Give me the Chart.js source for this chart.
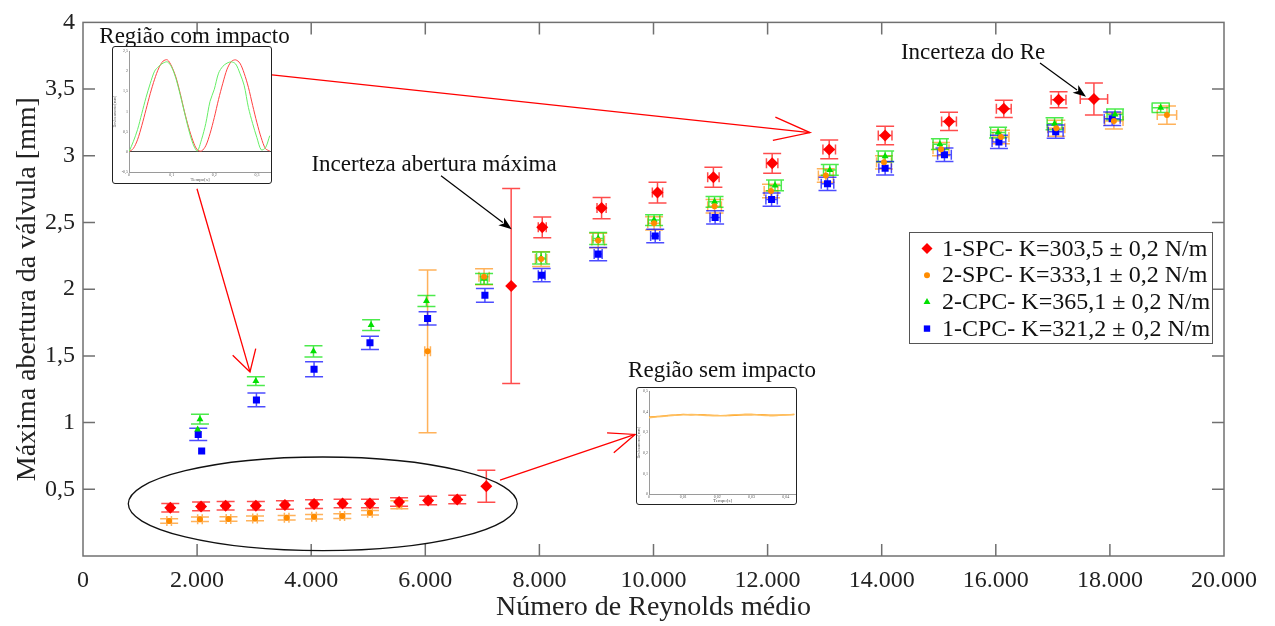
<!DOCTYPE html>
<html lang="pt">
<head>
<meta charset="utf-8">
<title>Máxima abertura da válvula</title>
<script src="https://cdn.jsdelivr.net/npm/chart.js@4.4.0/dist/chart.umd.min.js"></script>
<style>
  body { margin: 0; background: #fff; }
  #wrap { position: relative; width: 1275px; height: 626px; }
  .inset { position: absolute; background: #fff; border: 1px solid #222; border-radius: 3px; box-sizing: border-box; }
  .inset canvas { display: block; }
</style>
</head>
<body>
<div id="wrap">
  <canvas id="main" width="1275" height="626"></canvas>
  <div class="inset" style="left:112px;top:46px;width:160px;height:138px;">
    <canvas id="inset1" width="158" height="136"></canvas>
  </div>
  <div class="inset" style="left:636px;top:387px;width:161px;height:118px;">
    <canvas id="inset2" width="159" height="116"></canvas>
  </div>
</div>
<script>
/* =============================================
   DATA
   ============================================= */
// 1-SPC (red diamonds)
const spc1Re = [1530, 2070, 2500, 3030, 3540, 4050, 4550, 5030, 5540, 6050, 6560, 7070, 7505, 8050, 9090, 10070, 11050, 12080, 13080, 14060, 15180, 16140, 17100, 17720];
const spc1Ab = [0.361, 0.372, 0.377, 0.377, 0.382, 0.389, 0.394, 0.394, 0.405, 0.416, 0.424, 0.523, 2.024, 2.464, 2.608, 2.724, 2.840, 2.944, 3.048, 3.152, 3.258, 3.352, 3.421, 3.426];
const spc1ErrAb = [0.032, 0.032, 0.032, 0.032, 0.032, 0.032, 0.032, 0.032, 0.032, 0.032, 0.032, 0.12, 0.73, 0.078, 0.079, 0.078, 0.075, 0.074, 0.07, 0.07, 0.068, 0.065, 0.06, 0.12];
const spc1ErrRe = [50, 50, 50, 50, 50, 50, 50, 50, 50, 50, 50, 0, 0, 70, 80, 90, 100, 100, 110, 120, 130, 130, 130, 240];

// 2-SPC (orange circles)
const spc2Re = [1510, 2050, 2550, 3015, 3570, 4050, 4545, 5030, 5545, 6040, 7030, 8030, 9030, 10010, 11070, 12060, 13020, 14040, 15040, 16090, 17060, 18070, 19000];
const spc2Ab = [0.262, 0.275, 0.277, 0.282, 0.287, 0.295, 0.299, 0.324, 0.385, 1.534, 2.093, 2.226, 2.365, 2.494, 2.622, 2.736, 2.852, 2.951, 3.050, 3.141, 3.206, 3.260, 3.305];
const spc2ErrAb = [0.017, 0.017, 0.017, 0.017, 0.017, 0.017, 0.017, 0.017, 0.03, 0.61, 0.06, 0.055, 0.055, 0.05, 0.05, 0.05, 0.05, 0.05, 0.05, 0.05, 0.06, 0.06, 0.068];
const spc2ErrRe = [40, 40, 40, 40, 40, 40, 40, 40, 40, 50, 90, 100, 110, 110, 120, 120, 130, 130, 140, 140, 150, 160, 170];

// 2-CPC (green triangles)
const cpc2Re = [2050, 2010, 3030, 4040, 5050, 6020, 7030, 8030, 9030, 10010, 11070, 12130, 13090, 14060, 15020, 16040, 17030, 18090, 18890];
const cpc2Ab = [1.026, 0.948, 1.311, 1.534, 1.731, 1.912, 2.078, 2.234, 2.380, 2.518, 2.655, 2.778, 2.894, 2.996, 3.087, 3.174, 3.241, 3.310, 3.360];
const cpc2ErrAb = [0.037, 0, 0.032, 0.042, 0.04, 0.041, 0.04, 0.045, 0.045, 0.04, 0.04, 0.04, 0.04, 0.04, 0.04, 0.04, 0.045, 0.04, 0.035];
const cpc2ErrRe = [0, 0, 0, 0, 0, 0, 60, 80, 90, 100, 100, 110, 110, 120, 120, 130, 130, 140, 150];

// 1-CPC (blue squares)
const cpc1Re = [2020, 2080, 3040, 4050, 5030, 6040, 7045, 8040, 9030, 10030, 11080, 12070, 13050, 14060, 15100, 16055, 17050, 18040];
const cpc1Ab = [0.911, 0.787, 1.170, 1.400, 1.598, 1.781, 1.954, 2.105, 2.263, 2.399, 2.538, 2.672, 2.790, 2.907, 3.008, 3.104, 3.181, 3.278];
const cpc1ErrAb = [0.046, 0, 0.052, 0.056, 0.05, 0.05, 0.052, 0.05, 0.05, 0.05, 0.05, 0.05, 0.05, 0.05, 0.05, 0.05, 0.05, 0.05];
const cpc1ErrRe = [0, 0, 0, 0, 0, 0, 0, 60, 70, 80, 90, 100, 110, 110, 120, 120, 130, 140];

// Inset "Região com impacto"
const impactTime = [0, 0.01, 0.02, 0.03, 0.04, 0.05, 0.06, 0.07, 0.08, 0.09, 0.10, 0.11, 0.12, 0.13, 0.14, 0.15, 0.16, 0.17, 0.18, 0.19, 0.20, 0.21, 0.22, 0.23, 0.24, 0.25, 0.26, 0.27, 0.28, 0.29, 0.30, 0.31, 0.32, 0.33];
const impactRed = [0, 0.08, 0.3, 0.65, 1.05, 1.45, 1.8, 2.08, 2.25, 2.28, 2.12, 1.85, 1.45, 1.0, 0.6, 0.27, 0.05, 0.02, 0.15, 0.45, 0.85, 1.3, 1.7, 2.05, 2.24, 2.28, 2.2, 1.95, 1.6, 1.15, 0.72, 0.35, 0.08, 0.02];
const impactGreen = [0, 0.25, 0.55, 0.95, 1.35, 1.7, 2.0, 2.12, 2.2, 2.23, 2.1, 1.82, 1.42, 0.98, 0.55, 0.2, 0.02, 0.3, 0.7, 1.25, 1.55, 1.95, 2.12, 2.2, 2.23, 2.18, 1.95, 1.65, 1.1, 0.7, 0.35, 0.05, 0.1, 0.4];

// Inset "Região sem impacto"
const flatTime = [0, 0.0025, 0.005, 0.0075, 0.01, 0.0125, 0.015, 0.0175, 0.02, 0.0225, 0.025, 0.0275, 0.03, 0.0325, 0.035, 0.0375, 0.04, 0.0425];
const flatA = [0.375, 0.378, 0.382, 0.385, 0.388, 0.386, 0.387, 0.384, 0.383, 0.382, 0.383, 0.385, 0.386, 0.387, 0.385, 0.384, 0.386, 0.388];
const flatB = [0.372, 0.376, 0.380, 0.384, 0.386, 0.388, 0.385, 0.382, 0.381, 0.383, 0.386, 0.388, 0.389, 0.385, 0.382, 0.383, 0.386, 0.387];

// Axis ticks
const reTicks = [0, 2000, 4000, 6000, 8000, 10000, 12000, 14000, 16000, 18000, 20000];
const abTicks = [0, 0.5, 1, 1.5, 2, 2.5, 3, 3.5, 4];

/* =============================================
   SERIES / STYLE
   ============================================= */
const FONT = '"Liberation Serif", "Times New Roman", serif';

const series = [
  { label: '1-SPC- K=303,5 ± 0,2 N/m', re: spc1Re, ab: spc1Ab, errAb: spc1ErrAb, errRe: spc1ErrRe,
    color: '#ff0000', err: 'rgba(255,0,0,0.7)', style: 'rectRot', radius: 6, legendRadius: 5.5 },
  { label: '2-SPC- K=333,1 ± 0,2 N/m', re: spc2Re, ab: spc2Ab, errAb: spc2ErrAb, errRe: spc2ErrRe,
    color: '#ff8c00', err: 'rgba(255,145,20,0.7)', style: 'circle', radius: 3, legendRadius: 3 },
  { label: '2-CPC- K=365,1 ± 0,2 N/m', re: cpc2Re, ab: cpc2Ab, errAb: cpc2ErrAb, errRe: cpc2ErrRe,
    color: '#00e000', err: 'rgba(0,225,0,0.7)', style: 'triangle', radius: 4, legendRadius: 4 },
  { label: '1-CPC- K=321,2 ± 0,2 N/m', re: cpc1Re, ab: cpc1Ab, errAb: cpc1ErrAb, errRe: cpc1ErrRe,
    color: '#0000ff', err: 'rgba(0,0,255,0.7)', style: 'rect', radius: 5, legendRadius: 4.5 }
];

// annotations, given in data units (Re, abertura)
const noteTexts = [
  { text: 'Região com impacto', re: 1954, ab: 3.848 },
  { text: 'Incerteza abertura máxima', re: 6153, ab: 2.887 },
  { text: 'Incerteza do Re', re: 15601, ab: 3.722 },
  { text: 'Região sem impacto', re: 11201, ab: 1.343 }
];
const noteArrows = [
  { from: [3313, 3.607], to: [12744, 3.174], head: 38, spread: 18, fill: false, color: '#ff0000' },
  { from: [1998, 2.753], to: [2927, 1.380], head: 24, spread: 30, fill: false, color: '#ff0000' },
  { from: [7310, 0.569], to: [9676, 0.911], head: 28, spread: 22, fill: false, color: '#ff0000' },
  { from: [6275, 2.850], to: [7515, 2.449], head: 14, spread: 20, fill: true, color: '#000' },
  { from: [16775, 3.696], to: [17582, 3.443], head: 14, spread: 20, fill: true, color: '#000' }
];
const noteEllipse = { re: 4203, ab: 0.391, rRe: 3409, rAb: 0.351 };

/* =============================================
   HELPERS
   ============================================= */
const comma = v => String(+v.toFixed(4)).replace('.', ',');

function drawArrow(ctx, x1, y1, x2, y2, a) {
  const ang = Math.atan2(y2 - y1, x2 - x1);
  const sp = a.spread * Math.PI / 180;
  const p1 = [x2 - a.head * Math.cos(ang - sp), y2 - a.head * Math.sin(ang - sp)];
  const p2 = [x2 - a.head * Math.cos(ang + sp), y2 - a.head * Math.sin(ang + sp)];
  ctx.strokeStyle = a.color;
  ctx.fillStyle = a.color;
  ctx.lineWidth = a.fill ? 1.2 : 1.3;
  ctx.beginPath();
  ctx.moveTo(x1, y1);
  ctx.lineTo(a.fill ? x2 - a.head * 0.8 * Math.cos(ang) : x2, a.fill ? y2 - a.head * 0.8 * Math.sin(ang) : y2);
  ctx.stroke();
  ctx.beginPath();
  if (a.fill) {
    ctx.moveTo(x2, y2);
    ctx.lineTo(p1[0], p1[1]);
    ctx.lineTo(x2 - a.head * 0.7 * Math.cos(ang), y2 - a.head * 0.7 * Math.sin(ang));
    ctx.lineTo(p2[0], p2[1]);
    ctx.closePath();
    ctx.fill();
  } else {
    ctx.moveTo(p1[0], p1[1]);
    ctx.lineTo(x2, y2);
    ctx.lineTo(p2[0], p2[1]);
    ctx.stroke();
  }
}

/* =============================================
   PLUGINS
   ============================================= */
const errorBars = {
  id: 'errorBars',
  beforeDatasetsDraw(chart) {
    const { ctx, scales: { x, y } } = chart;
    ctx.save();
    ctx.lineWidth = 1.5;
    series.forEach(s => {
      ctx.strokeStyle = s.err;
      s.re.forEach((re, i) => {
        const cx = x.getPixelForValue(re);
        const cy = y.getPixelForValue(s.ab[i]);
        const ea = s.errAb[i], er = s.errRe[i];
        ctx.beginPath();
        if (ea > 0) {
          const t = y.getPixelForValue(s.ab[i] + ea);
          const b = y.getPixelForValue(s.ab[i] - ea);
          ctx.moveTo(cx, t); ctx.lineTo(cx, b);
          ctx.moveTo(cx - 9, t); ctx.lineTo(cx + 9, t);
          ctx.moveTo(cx - 9, b); ctx.lineTo(cx + 9, b);
        }
        if (er > 0) {
          const l = x.getPixelForValue(re - er);
          const r = x.getPixelForValue(re + er);
          ctx.moveTo(l, cy); ctx.lineTo(r, cy);
          ctx.moveTo(l, cy - 5); ctx.lineTo(l, cy + 5);
          ctx.moveTo(r, cy - 5); ctx.lineTo(r, cy + 5);
        }
        ctx.stroke();
      });
    });
    ctx.restore();
  }
};

const frameAndNotes = {
  id: 'frameAndNotes',
  afterDraw(chart) {
    const { ctx, chartArea: a, scales: { x, y } } = chart;
    ctx.save();

    // box with inward ticks
    ctx.strokeStyle = '#707070';
    ctx.lineWidth = 1.5;
    ctx.strokeRect(a.left, a.top, a.right - a.left, a.bottom - a.top);
    ctx.beginPath();
    reTicks.slice(1, -1).forEach(v => {
      const p = x.getPixelForValue(v);
      ctx.moveTo(p, a.bottom); ctx.lineTo(p, a.bottom - 12);
      ctx.moveTo(p, a.top); ctx.lineTo(p, a.top + 12);
    });
    abTicks.slice(1, -1).forEach(v => {
      const p = y.getPixelForValue(v);
      ctx.moveTo(a.left, p); ctx.lineTo(a.left + 12, p);
      ctx.moveTo(a.right, p); ctx.lineTo(a.right - 12, p);
    });
    ctx.stroke();

    // ellipse round the low region
    ctx.strokeStyle = '#111';
    ctx.lineWidth = 1.3;
    ctx.beginPath();
    const ex = x.getPixelForValue(noteEllipse.re), ey = y.getPixelForValue(noteEllipse.ab);
    const rx = x.getPixelForValue(noteEllipse.re + noteEllipse.rRe) - ex;
    const ry = ey - y.getPixelForValue(noteEllipse.ab + noteEllipse.rAb);
    ctx.ellipse(ex, ey, rx, ry, 0, 0, Math.PI * 2);
    ctx.stroke();

    // arrows
    noteArrows.forEach(n => {
      drawArrow(ctx,
        x.getPixelForValue(n.from[0]), y.getPixelForValue(n.from[1]),
        x.getPixelForValue(n.to[0]), y.getPixelForValue(n.to[1]), n);
    });

    // texts
    ctx.fillStyle = '#111';
    ctx.font = '23px ' + FONT;
    ctx.textAlign = 'center';
    ctx.textBaseline = 'alphabetic';
    noteTexts.forEach(n => ctx.fillText(n.text, x.getPixelForValue(n.re), y.getPixelForValue(n.ab)));

    // legend
    const lx = a.right - 315, ly = 232, lw = 303, lh = 111;
    ctx.fillStyle = '#fff';
    ctx.fillRect(lx, ly, lw, lh);
    ctx.strokeStyle = '#555';
    ctx.lineWidth = 1;
    ctx.strokeRect(lx + 0.5, ly + 0.5, lw, lh);
    ctx.font = '24px ' + FONT;
    ctx.textAlign = 'left';
    ctx.textBaseline = 'middle';
    series.forEach((s, i) => {
      const yy = ly + 16.5 + i * 26.7;
      ctx.fillStyle = s.color;
      Chart.helpers.drawPoint(ctx, { pointStyle: s.style, radius: s.legendRadius, rotation: 0, borderWidth: 0 }, lx + 18, yy);
      ctx.fillStyle = '#111';
      ctx.fillText(s.label, lx + 33, yy + 1);
    });

    ctx.restore();
  }
};

/* =============================================
   MAIN CHART
   ============================================= */
new Chart(document.getElementById('main'), {
  type: 'scatter',
  data: {
    datasets: series.map(s => ({
      label: s.label,
      data: s.re.map((re, i) => ({ x: re, y: s.ab[i] })),
      pointStyle: s.style,
      pointRadius: s.radius,
      backgroundColor: s.color,
      borderColor: s.color,
      borderWidth: 0
    }))
  },
  options: {
    responsive: false,
    animation: false,
    events: [],
    layout: { padding: { top: 17, right: 51, left: 0, bottom: 0 } },
    plugins: { legend: { display: false }, tooltip: { enabled: false } },
    scales: {
      x: {
        type: 'linear', min: 0, max: 20000,
        afterBuildTicks: s => { s.ticks = reTicks.map(v => ({ value: v })); },
        afterFit: s => { s.height = 70; },
        ticks: { padding: 10, color: '#222', font: { family: FONT, size: 24 },
                 callback: v => v.toLocaleString('de-DE') },
        grid: { display: false, drawTicks: false },
        border: { display: false },
        title: { display: true, text: 'Número de Reynolds médio', color: '#222',
                 font: { family: FONT, size: 28 }, padding: { top: 0, bottom: 2 } }
      },
      y: {
        type: 'linear', min: 0, max: 4,
        afterBuildTicks: s => { s.ticks = abTicks.map(v => ({ value: v })); },
        afterFit: s => { s.width = 83; },
        ticks: { padding: 8, color: '#222', font: { family: FONT, size: 24 },
                 callback: v => (v === 0 ? '' : comma(v)) },
        grid: { display: false, drawTicks: false },
        border: { display: false },
        title: { display: true, text: 'Máxima abertura da válvula [mm]', color: '#222',
                 font: { family: FONT, size: 28 }, padding: { top: 11, bottom: 0 } }
      }
    }
  },
  plugins: [errorBars, frameAndNotes]
});

/* =============================================
   INSET CHARTS
   ============================================= */
function insetOptions(cfg) {
  const tiny = { family: FONT, size: 4 };
  return {
    responsive: false,
    animation: false,
    events: [],
    layout: { padding: cfg.padding },
    plugins: { legend: { display: false }, tooltip: { enabled: false } },
    scales: {
      x: {
        type: 'linear', min: cfg.xMin, max: cfg.xMax,
        afterBuildTicks: s => { s.ticks = cfg.xTicks.map(v => ({ value: v })); },
        afterFit: s => { s.height = cfg.xHeight; },
        ticks: { padding: 1, color: '#555', font: tiny, callback: v => comma(v) },
        grid: { drawOnChartArea: false, drawTicks: false },
        border: { display: true, color: '#9a9a9a' },
        title: { display: true, text: 'Tempo[s]', color: '#555', font: { family: FONT, size: 5 }, padding: 0 }
      },
      y: {
        type: 'linear', min: cfg.yMin, max: cfg.yMax,
        afterBuildTicks: s => { s.ticks = cfg.yTicks.map(v => ({ value: v })); },
        afterFit: s => { s.width = cfg.yWidth; },
        ticks: { padding: 1, color: '#555', font: tiny, callback: v => comma(v) },
        grid: { drawTicks: false, color: c => (cfg.zeroLine && c.tick && c.tick.value === 0 ? '#444' : 'rgba(0,0,0,0)') },
        border: { display: true, color: '#9a9a9a' },
        title: { display: true, text: 'Deslocamento[mm]', color: '#555', font: { family: FONT, size: 4 }, padding: 0 }
      }
    }
  };
}

new Chart(document.getElementById('inset1'), {
  type: 'line',
  data: {
    datasets: [
      { data: impactTime.map((t, i) => ({ x: t, y: impactGreen[i] })), borderColor: '#66ee66', borderWidth: 1, pointRadius: 0, tension: 0.3 },
      { data: impactTime.map((t, i) => ({ x: t, y: impactRed[i] })), borderColor: '#ff4040', borderWidth: 1, pointRadius: 0, tension: 0.3 }
    ]
  },
  options: insetOptions({
    padding: { top: 4, right: 0, left: 0, bottom: 0 },
    xMin: 0, xMax: 0.333, xTicks: [0, 0.1, 0.2, 0.3], xHeight: 11,
    yMin: -0.5, yMax: 2.5, yTicks: [-0.5, 0, 0.5, 1, 1.5, 2, 2.5], yWidth: 16,
    zeroLine: true
  })
});

new Chart(document.getElementById('inset2'), {
  type: 'line',
  data: {
    datasets: [
      { data: flatTime.map((t, i) => ({ x: t, y: flatB[i] })), borderColor: '#ffc060', borderWidth: 1.5, pointRadius: 0, tension: 0.3 },
      { data: flatTime.map((t, i) => ({ x: t, y: flatA[i] })), borderColor: '#ff9a10', borderWidth: 1.2, pointRadius: 0, tension: 0.3 }
    ]
  },
  options: insetOptions({
    padding: { top: 2, right: 0, left: 0, bottom: 0 },
    xMin: 0, xMax: 0.043, xTicks: [0, 0.01, 0.02, 0.03, 0.04], xHeight: 10,
    yMin: 0, yMax: 0.5, yTicks: [0, 0.1, 0.2, 0.3, 0.4, 0.5], yWidth: 12,
    zeroLine: false
  })
});
</script>
</body>
</html>
